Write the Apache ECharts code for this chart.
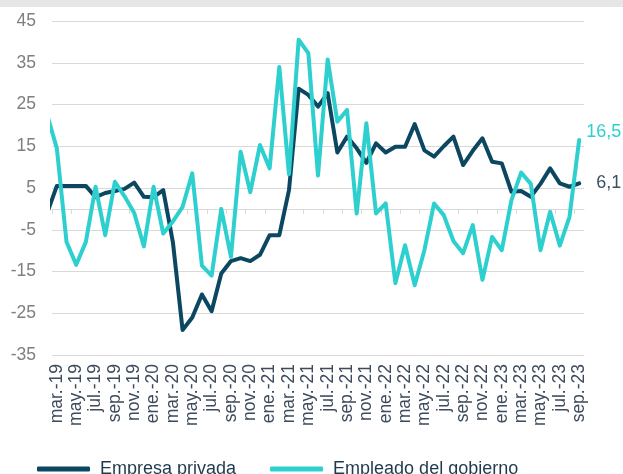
<!DOCTYPE html>
<html>
<head>
<meta charset="utf-8">
<script src="https://cdn.jsdelivr.net/npm/echarts@6/dist/echarts.min.js"></script>
<style>
html,body{margin:0;padding:0;background:#fff;}
#c{width:623px;height:474px;}
</style>
</head>
<body>
<div id="c"></div>
<script>
// months from feb.-19 (partly outside plot, clipped) to sep.-23
var months = [
  'feb.-19',
  'mar.-19','abr.-19','may.-19','jun.-19','jul.-19','ago.-19','sep.-19','oct.-19','nov.-19','dic.-19',
  'ene.-20','feb.-20','mar.-20','abr.-20','may.-20','jun.-20','jul.-20','ago.-20','sep.-20','oct.-20','nov.-20','dic.-20',
  'ene.-21','feb.-21','mar.-21','abr.-21','may.-21','jun.-21','jul.-21','ago.-21','sep.-21','oct.-21','nov.-21','dic.-21',
  'ene.-22','feb.-22','mar.-22','abr.-22','may.-22','jun.-22','jul.-22','ago.-22','sep.-22','oct.-22','nov.-22','dic.-22',
  'ene.-23','feb.-23','mar.-23','abr.-23','may.-23','jun.-23','jul.-23','ago.-23','sep.-23'
];
var empresaPrivada = [
  -1,
  5.5, 5.5, 5.5, 5.5, 2.8, 3.8, 4.3, 4.8, 6.3, 2.9,
  2.8, 4.5, -8, -29, -26, -20.5, -24.5, -15.5, -12.5, -11.8, -12.5, -11,
  -6.3, -6.3, 4.5, 28.8, 27.3, 24.5, 27.7, 13.5, 17.3, 14.5, 11, 15.7,
  13.5, 14.9, 14.9, 20.3, 14, 12.5, 15, 17.3, 10.5, 13.9, 16.9, 11.3,
  10.9, 4.1, 4.3, 2.9, 6, 9.7, 6.1, 5.3, 6.1
];
var empleadoGobierno = [
  22.5,
  14.5, -7.9, -13.4, -7.9, 5.3, -6.3, 6.5, 3, -1, -9,
  5.3, -5.9, -3, 0.5, 8.5, -13.6, -16, 0, -11.5, 13.7, 4, 15.3,
  9.7, 34, 8.3, 40.5, 37.3, 8, 35.8, 20.9, 23.7, -1.1, 20.5, -1.1,
  1.3, -17.8, -8.7, -18.3, -9.9, 1.3, -1.5, -7.7, -10.6, -3.9, -17, -6.7,
  -9.9, 2.1, 8.7, 6, -9.9, -0.7, -8.8, -1.9, 16.5
];
var yTicks = { min: -35, max: 45, step: 10 };
var seriesNames = ['Empresa privada', 'Empleado del gobierno'];
var colors = ['#0b4761', '#2ecfcf'];

// index 1 in arrays = mar.-19 = x position 0
function toPairs(arr) { return arr.map(function (v, i) { return [i - 1, v]; }); }
var lastIdx = months.length - 2; // 54
var labelVals = [], tickVals = [];
for (var k = 0; k <= lastIdx; k += 2) { labelVals.push(k); tickVals.push(k - 0.5); }

var chart = echarts.init(document.getElementById('c'), null, { renderer: 'canvas' });
var font = '"Liberation Sans", Arial, sans-serif';
function fmt(p) { return p.value[1].toFixed(1).replace('.', ','); }

chart.setOption({
  animation: false,
  textStyle: { fontFamily: font },
  graphic: [{ type: 'rect', left: 0, top: 0, shape: { width: 623, height: 7 }, style: { fill: '#e6e6e6' }, silent: true }],
  grid: { left: 52, right: 39, top: 21, bottom: 119, containLabel: false },
  legend: {
    left: 32, top: 455, itemWidth: 53, itemHeight: 5, itemGap: 34, icon: 'roundRect',
    textStyle: { fontSize: 18, color: '#1f3a4d', fontFamily: font, padding: [0, 0, 0, 5] },
    data: seriesNames
  },
  xAxis: [{
    type: 'value', min: -0.5, max: lastIdx + 0.5,
    axisLine: { show: false, onZero: false }, axisTick: { show: false }, splitLine: { show: false },
    axisLabel: {
      customValues: labelVals, rotate: 90, margin: 9, fontSize: 17.5, color: '#3d4b5c', fontFamily: font,
      formatter: function (v) { return months[Math.round(v) + 1]; }
    }
  }, {
    type: 'value', min: -0.5, max: lastIdx + 0.5, position: 'bottom',
    axisLine: { show: true, onZero: true, lineStyle: { color: '#d9d9d9', width: 1 } },
    axisTick: { show: true, customValues: tickVals, length: 5, lineStyle: { color: '#d9d9d9' } },
    axisLabel: { show: false }, splitLine: { show: false }
  }],
  yAxis: {
    type: 'value', min: yTicks.min, max: yTicks.max, interval: yTicks.step,
    axisLine: { show: false }, axisTick: { show: false },
    splitLine: { lineStyle: { color: '#d9d9d9', width: 1 } },
    axisLabel: { fontSize: 17.5, color: '#7f7f7f', margin: 16, fontFamily: font }
  },
  series: [{
    name: seriesNames[0], type: 'line', data: toPairs(empresaPrivada), symbol: 'none', clip: true,
    lineStyle: { color: colors[0], width: 4, cap: 'round', join: 'round' }, itemStyle: { color: colors[0] },
    endLabel: { show: true, formatter: fmt, distance: 17, fontSize: 18, color: '#3b5062', fontFamily: font }
  }, {
    name: seriesNames[1], type: 'line', data: toPairs(empleadoGobierno), symbol: 'none', clip: true,
    lineStyle: { color: colors[1], width: 4, cap: 'round', join: 'round' }, itemStyle: { color: colors[1] },
    endLabel: { show: true, formatter: fmt, distance: 7, offset: [0, -8], fontSize: 18, color: colors[1], fontFamily: font }
  }]
});
</script>
</body>
</html>
